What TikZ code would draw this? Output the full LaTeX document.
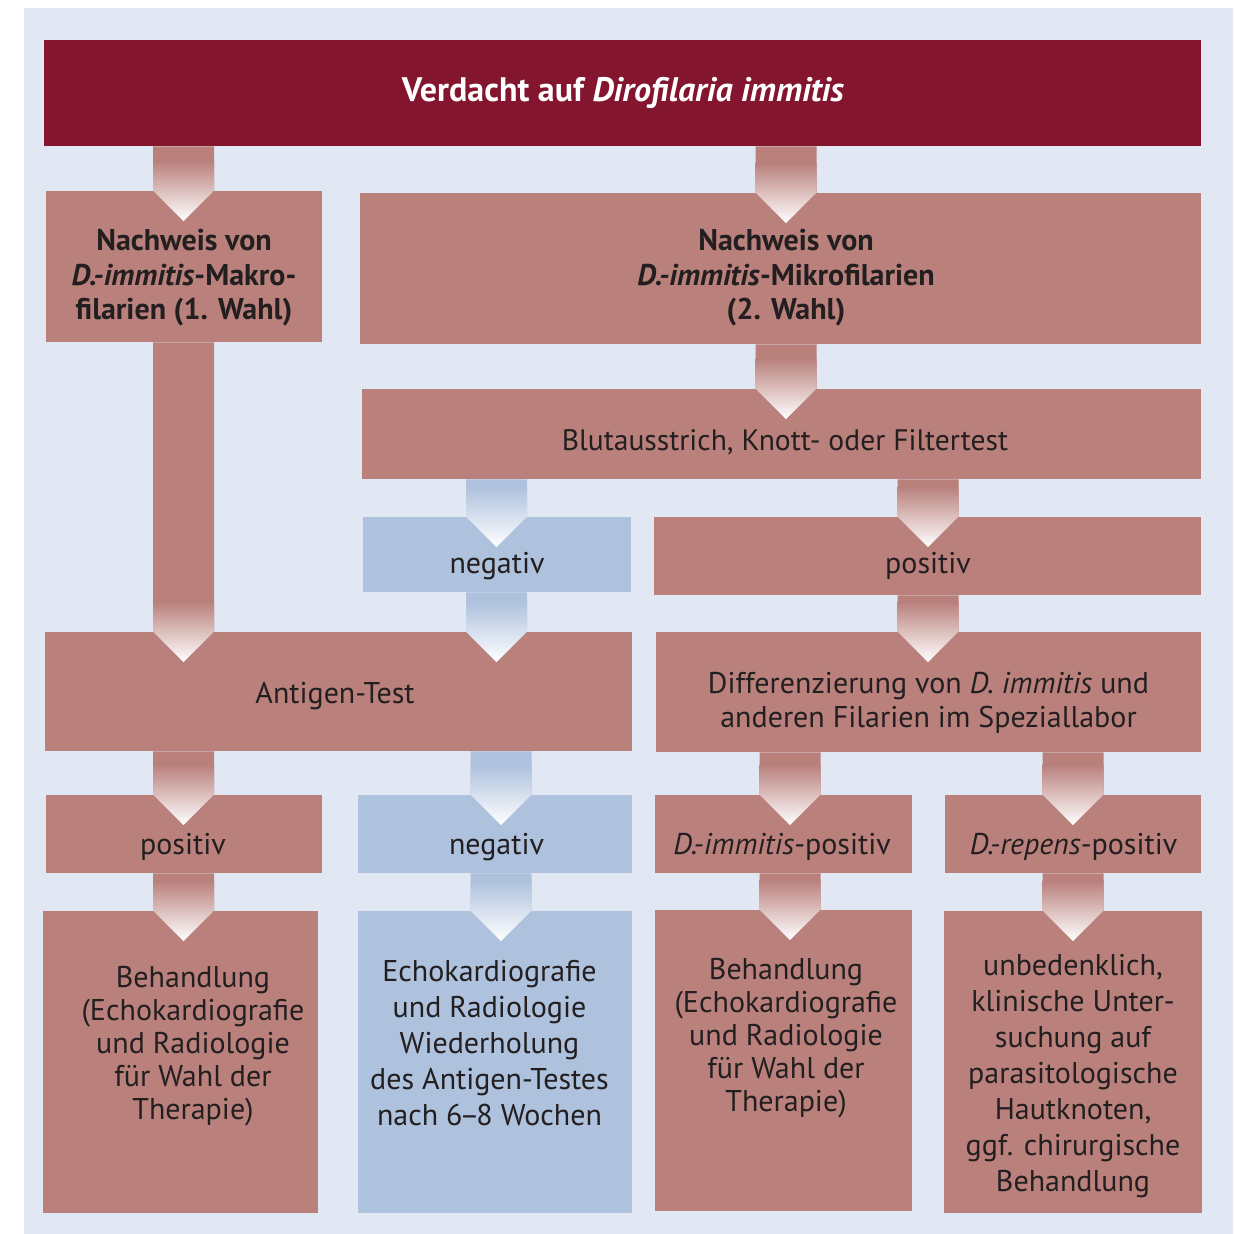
\documentclass[tikz,border=0pt]{standalone}
\usepackage{fontspec}
\setmainfont{PT Sans}
\usetikzlibrary{calc,fit}
\definecolor{titelrot}{RGB}{131,21,46}
\definecolor{rosa}{RGB}{185,128,124}
\definecolor{hellblau}{RGB}{174,193,221}
\definecolor{grund}{RGB}{225,232,244}
\definecolor{schrift}{RGB}{35,31,32}

% Blockpfeil: [Farbe]{von}{nach}{x-Mitte}
\newcommand{\blockpfeil}[4][rosa]{%
  \coordinate (oben) at (#4,0 |- #2.south);
  \coordinate (unten) at (#4,0 |- #3.north);
  \fill[#1] ($(oben)+(-30.5,0)$) -- ($(oben)+(30.5,0)$) -- ($(unten)+(30.5,0)$)
    -- ($(unten)+(0,30.5)$) -- ($(unten)+(-30.5,0)$) -- cycle;
  \shade[top color=#1, bottom color=white] ($(unten)+(-30.5,-30)$) -- ($(unten)+(30.5,-30)$)
    -- ($(unten)+(30.5,0)$) -- ($(unten)+(0,30.5)$) -- ($(unten)+(-30.5,0)$) -- cycle;
}

\begin{document}
\begin{tikzpicture}[x=0.5pt, y=-0.5pt,
    feld/.style={fill=rosa, draw=none, inner sep=0pt},
    blau/.style={feld, fill=hellblau},
    txt/.style={align=center, text=schrift, font=\fontsize{15}{17}\selectfont},
    fett/.style={align=center, text=schrift, font=\fontsize{15}{17.25}\selectfont\bfseries}
  ]
  % Hintergrund
  \useasboundingbox (0,0) rectangle (1233,1234);
  \fill[grund] (24,8) rectangle (1233,1234);

  % Kästen
  \node[feld, fill=titelrot, fit={(44,40) (1201,146)}] (titel) {};
  \node[feld, fit={(46,191) (322,342)}] (makro) {};
  \node[feld, fit={(360,193) (1201,344)}] (mikro) {};
  \node[feld, fit={(362,389) (1201,479)}] (blut) {};
  \node[blau, fit={(363,517) (631,592)}] (neg1) {};
  \node[feld, fit={(654,517) (1201,595)}] (pos1) {};
  \node[feld, fit={(45,632) (632,751)}] (antigen) {};
  \node[feld, fit={(656,632) (1201,752)}] (diff) {};
  \node[feld, fit={(46,795) (322,873)}] (pos2) {};
  \node[blau, fit={(358,795) (632,873)}] (neg2) {};
  \node[feld, fit={(655,795) (912,873)}] (immpos) {};
  \node[feld, fit={(945,795) (1201,873)}] (reppos) {};
  \node[feld, fit={(43,911) (318,1213)}] (behL) {};
  \node[blau, fit={(358,911) (632,1213)}] (echo) {};
  \node[feld, fit={(655,910) (912,1211)}] (behR) {};
  \node[feld, fit={(944,911) (1202,1213)}] (haut) {};

  % Pfeile
  \blockpfeil{titel}{makro}{183.5}
  \blockpfeil{titel}{mikro}{786}
  \blockpfeil{mikro}{blut}{786}
  \blockpfeil[hellblau]{blut}{neg1}{496.5}
  \blockpfeil{blut}{pos1}{928}
  \blockpfeil{makro}{antigen}{183.5}
  \blockpfeil[hellblau]{neg1}{antigen}{496.5}
  \blockpfeil{pos1}{diff}{928}
  \blockpfeil{antigen}{pos2}{183.5}
  \blockpfeil[hellblau]{antigen}{neg2}{501}
  \blockpfeil{diff}{immpos}{790}
  \blockpfeil{diff}{reppos}{1073}
  \blockpfeil{pos2}{behL}{183.5}
  \blockpfeil[hellblau]{neg2}{echo}{501}
  \blockpfeil{immpos}{behR}{790}
  \blockpfeil{reppos}{haut}{1073}

  % Texte
  \node[fett, text=white, font=\fontsize{17}{20}\selectfont\bfseries] (t-titel) at (623,93)
    {Verdacht auf \textit{Dirofilaria immitis}};
  \node[fett] (t-makro) at (184,278) {Nachweis von\\\textit{D.-immitis}-Makro-\\filarien (1. Wahl)};
  \node[fett] (t-mikro) at (786,278) {Nachweis von\\\textit{D.-immitis}-Mikrofilarien\\(2. Wahl)};
  \node[txt, font=\fontsize{14.8}{17}\selectfont] (t-blut) at (785,442) {Blutausstrich, Knott- oder Filtertest};
  \node[txt] (t-neg1) at (497,566) {negativ};
  \node[txt] (t-pos1) at (928,566) {positiv};
  \node[txt] (t-antigen) at (335,696) {Antigen-Test};
  \node[txt] (t-diff) at (928.5,703) {Differenzierung von \textit{D. immitis} und\\anderen Filarien im Speziallabor};
  \node[txt] (t-pos2) at (183,847) {positiv};
  \node[txt] (t-neg2) at (496.5,847) {negativ};
  \node[txt] (t-imm) at (782,847) {\textit{D.-immitis}-positiv};
  \node[txt] (t-rep) at (1073.5,847) {\textit{D.-repens}-positiv};
  \node[txt, font=\fontsize{15}{16.5}\selectfont] (t-behL) at (193,1046)
    {Behandlung\\(Echokardiografie\\und Radiologie\\für Wahl der\\Therapie)};
  \node[txt, font=\fontsize{15}{18}\selectfont] (t-echo) at (489.5,1043)
    {Echokardiografie\\und Radiologie\\Wiederholung\\des Antigen-Testes\\nach 6\kern-1.5pt–\kern-1.5pt8 Wochen};
  \node[txt, font=\fontsize{15}{16.5}\selectfont] (t-behR) at (786,1038)
    {Behandlung\\(Echokardiografie\\und Radiologie\\für Wahl der\\Therapie)};
  \node[txt, font=\fontsize{15}{18}\selectfont] (t-haut) at (1073,1076)
    {unbedenklich,\\klinische Unter-\\suchung auf\\parasitologische\\Hautknoten,\\ggf. chirurgische\\Behandlung};
\end{tikzpicture}
\end{document}
